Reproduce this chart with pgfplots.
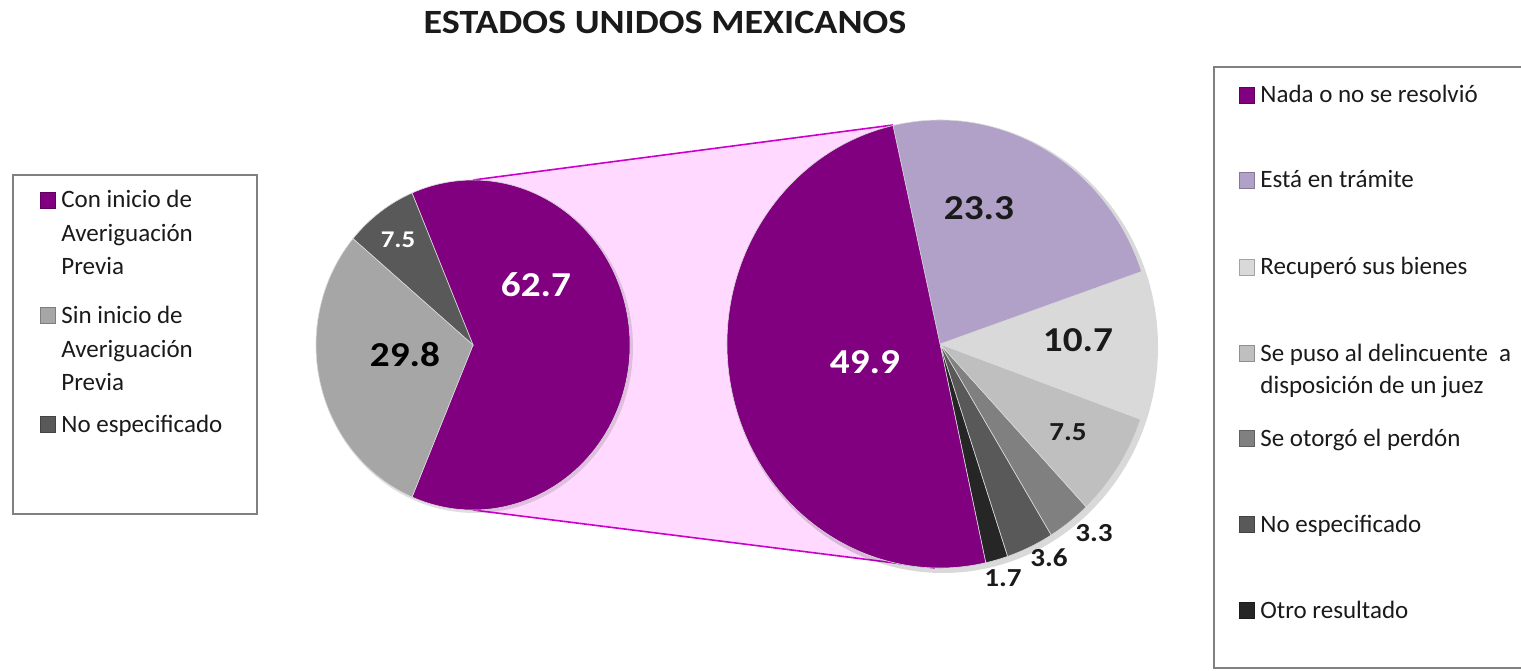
\documentclass[border=0pt]{standalone}
\usepackage{fontspec}
\setmainfont{Carlito}[FakeStretch=1.12]
\newfontfamily\estrecha{Carlito}
\usepackage{pgfplots}
\usepackage{pgfplotstable}
\pgfplotsset{compat=1.18}

\definecolor{morado}{HTML}{800080}
\definecolor{lila}{HTML}{B1A0C7}
\definecolor{gris1}{HTML}{D9D9D9}
\definecolor{gris2}{HTML}{BFBFBF}
\definecolor{gris3}{HTML}{808080}
\definecolor{gris4}{HTML}{595959}
\definecolor{gris5}{HTML}{262626}
\definecolor{grisA}{HTML}{A6A6A6}
\definecolor{rosa}{HTML}{FFD9FF}
\definecolor{linea}{HTML}{CC00CC}
\definecolor{texto}{HTML}{1A1A1A}

% slices counter-clockwise from the start angle; lx ly = label position, fs = font size
\pgfplotstableread{
value color lx ly fs tc
62.7 morado 536 385 17.5 white
7.5  gris4  398 430 12 white
29.8 grisA  405 315 17.5 black
}\primario

\pgfplotstableread{
value color lx ly fs tc
1.7  gris5  1003 92  13 texto
3.6  gris4  1049 112 13 texto
3.3  gris3  1094 137 13 texto
7.5  gris2  1068 238 13 texto
10.7 gris1  1078 330 17.5 texto
23.3 lila   979  462 17.5 texto
49.9 morado 865  308 17.5 white
}\secundario

% #1 table, #2 #3 centre, #4 #5 radii, #6 start angle
\newcommand\pastel[6]{%
  \pgfplotstablegetrowsof{#1}%
  \pgfmathtruncatemacro\nfilas{\pgfplotsretval-1}%
  \pgfmathsetmacro\acum{#6}%
  \pgfplotsforeachungrouped \k in {0,...,\nfilas}{%
    \pgfplotstablegetelem{\k}{value}\of#1\let\sval\pgfplotsretval
    \pgfplotstablegetelem{\k}{color}\of#1\let\scol\pgfplotsretval
    \pgfmathsetmacro\sa{\acum}%
    \pgfmathsetmacro\sb{\acum+3.6*\sval}%
    \edef\cmd{\noexpand\fill[\scol, draw=white!70!gray, line width=0.3pt]
      (axis cs:#2,#3) -- ++(\sa:#4 and #5)
      arc[start angle=\sa, end angle=\sb, x radius=#4, y radius=#5] -- cycle;}%
    \cmd
    \let\acum\sb
  }%
  \pgfplotsforeachungrouped \k in {0,...,\nfilas}{%
    \pgfplotstablegetelem{\k}{value}\of#1\let\sval\pgfplotsretval
    \pgfplotstablegetelem{\k}{lx}\of#1\let\slx\pgfplotsretval
    \pgfplotstablegetelem{\k}{ly}\of#1\let\sly\pgfplotsretval
    \pgfplotstablegetelem{\k}{fs}\of#1\let\sfs\pgfplotsretval
    \pgfplotstablegetelem{\k}{tc}\of#1\let\stc\pgfplotsretval
    \edef\cmd{\noexpand\node[text=\stc, inner sep=0pt,
      font=\noexpand\fontsize{\sfs}{\sfs}\noexpand\selectfont\noexpand\bfseries]
      at (axis cs:\slx,\sly) {\sval};}%
    \cmd
  }%
}

\newcommand\leyenda{\fontsize{12}{12}\selectfont}
% legend key: colour, x, baseline, text
\newcommand\clave[4]{%
  \fill[#1, draw=#1!75!black, line width=0.3pt] (axis cs:#2,#3) rectangle (axis cs:#2+15,#3+16);
  \node[anchor=base west, inner sep=0pt, font=\leyenda, text=texto] at (axis cs:#2+21,#3) {#4};
}
\newcommand\linea[3]{%
  \node[anchor=base west, inner sep=0pt, font=\leyenda, text=texto] at (axis cs:#1,#2) {#3};
}

\begin{document}
\begin{tikzpicture}
\begin{axis}[
    width=760.5pt, height=335pt, scale only axis,
    xmin=0, xmax=1521, ymin=0, ymax=670,
    hide axis, clip=true
]
\node[font=\fontsize{17}{17}\selectfont\bfseries, text=texto] at (axis cs:665,648) {ESTADOS UNIDOS MEXICANOS};

% connector band
\fill[rosa] (axis cs:473,490) -- (axis cs:893,545) -- (axis cs:935,102) -- (axis cs:473,160) -- cycle;
\draw[linea, line width=0.8pt] (axis cs:473,490) -- (axis cs:893,545);
\draw[linea, line width=0.8pt] (axis cs:473,160) -- (axis cs:935,102);

% shadows
\fill[black, opacity=0.12] (axis cs:475,323) ellipse [x radius=79pt, y radius=83pt];
\fill[black, opacity=0.15] (axis cs:943,323) ellipse [x radius=107.5pt, y radius=113pt];

\pastel{\primario}{473}{325}{78.5pt}{82.5pt}{-112.86}
\pastel{\secundario}{940}{326}{106.5pt}{112pt}{-77.6}

% left legend
\draw[gray, line width=0.6pt] (axis cs:13,156) rectangle (axis cs:257,495);
\clave{morado}{40}{462}{Con inicio de}
\linea{61}{428}{Averiguación}
\linea{61}{395}{Previa}
\clave{grisA}{40}{347}{Sin inicio de}
\linea{61}{313}{Averiguación}
\linea{61}{280}{Previa}
\clave{gris4}{40}{238}{No especificado}

% right legend
\renewcommand\leyenda{\fontsize{12.5}{12.5}\estrecha}
\draw[gray, line width=0.6pt] (axis cs:1214,2) rectangle (axis cs:1560,603);
\clave{morado}{1239}{567}{Nada o no se resolvió}
\clave{lila}{1239}{482}{Está en trámite}
\clave{gris1}{1239}{395}{Recuperó sus bienes}
\clave{gris2}{1239}{309}{Se puso al delincuente\ \ a}
\linea{1260}{277}{disposición de un juez}
\clave{gris3}{1239}{224}{Se otorgó el perdón}
\clave{gris4}{1239}{138}{No especificado}
\clave{gris5}{1239}{52}{Otro resultado}
\end{axis}
\pgfresetboundingbox
\path[use as bounding box] (current axis.south west) rectangle (current axis.north east);
\end{tikzpicture}
\end{document}
